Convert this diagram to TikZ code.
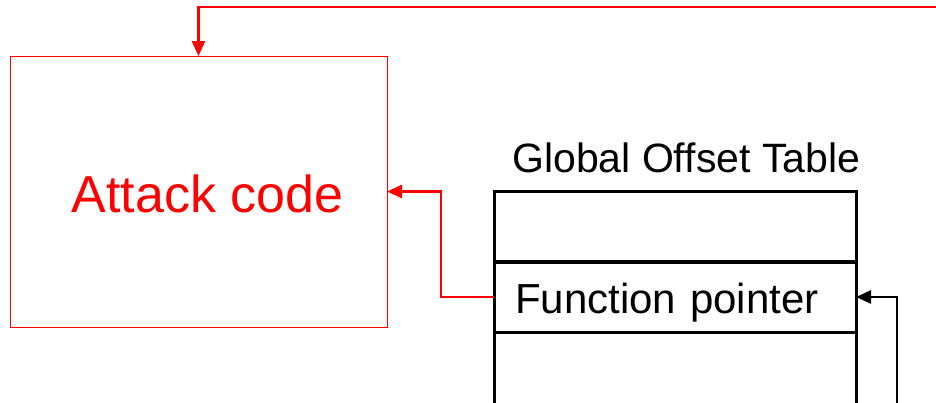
\documentclass[tikz,border=0pt]{standalone}
\usepackage{fontspec}
\setmainfont{Liberation Sans}
\usetikzlibrary{arrows.meta,calc}
\definecolor{atkred}{RGB}{255,0,0}
\begin{document}
\begin{tikzpicture}[x=1pt,y=-1pt,
  cell/.style={draw=black,line width=3pt,minimum width=362pt,minimum height=70pt,inner sep=0pt,outer sep=0pt},
  redline/.style={draw=atkred,line width=2.5pt,-{Triangle[length=15pt,width=13pt]}},
  blackline/.style={draw=black,line width=2.5pt,-{Triangle[length=15pt,width=13pt]}}]
\useasboundingbox (0,0) rectangle (936,402);
\clip (0,0) rectangle (936,402);
\node[draw=atkred,line width=1pt,minimum width=377pt,minimum height=271pt,inner sep=0pt,outer sep=0pt,
  text=atkred,text height=41pt,text depth=0pt,font=\fontsize{52}{60}\selectfont] (attack) at (198.5,191.5) {\hspace*{18pt}Attack code};
\node[cell] (row1) at (675,226.5) {};
\node[cell,inner xsep=21pt,text width=320pt,align=left,text height=32pt,text depth=0pt,font=\fontsize{42}{48}\selectfont] (row2) at (675,297) {Function pointer};
\node[cell,minimum height=100pt] (row3) at (675,382) {};
\node[anchor=base west,inner sep=0pt,font=\fontsize{41}{48}\selectfont] (gotlabel) at (512,172) {Global Offset Table};
\coordinate (topstart) at (945,7);
\coordinate (botstart) at (897,410);
\draw[redline] (row2.west) -- ++(-53,0) |- (attack.east);
\draw[redline] (topstart) -| (attack.north);
\draw[blackline] (botstart) |- (row2.east);
\end{tikzpicture}
\end{document}
